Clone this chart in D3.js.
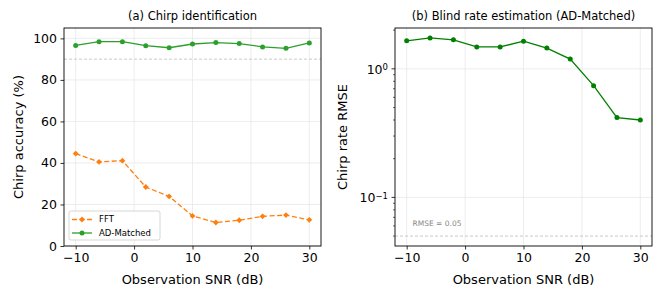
<!DOCTYPE html>
<html>
<head>
<meta charset="utf-8">
<script src="https://cdn.jsdelivr.net/npm/d3@7"></script>
<style>
  body { margin: 0; background: #fff; }
  svg text { font-family: "DejaVu Sans", sans-serif; fill: #000; }
</style>
</head>
<body>
<script>
// observation SNR (dB)
const snr = [-10, -6, -2, 2, 6, 10, 14, 18, 22, 26, 30];
// (a) chirp identification accuracy (%)
const fftAcc = [44.5, 40.5, 41.1, 28.4, 23.9, 14.5, 11.3, 12.4, 14.3, 14.9, 12.6];
const adAcc = [96.6, 98.4, 98.4, 96.5, 95.5, 97.3, 98.0, 97.5, 95.9, 95.2, 97.8];
const accThreshold = 90;
// (b) blind rate RMSE (AD-Matched)
const rateRmse = [1.65, 1.74, 1.68, 1.48, 1.48, 1.64, 1.45, 1.19, 0.74, 0.418, 0.40];
const rmseRef = 0.05;

const xTicks = [-10, 0, 10, 20, 30];
const accTicks = [0, 20, 40, 60, 80, 100];

const W = 662, H = 290;
const plotTop = 28, plotBottom = 246;
const panels = [{ left: 64, right: 321 }, { left: 395, right: 652 }];

const svg = d3.select("body").append("svg")
    .attr("width", W)
    .attr("height", H);

const fmt = d => (d < 0 ? "\u2212" + Math.abs(d) : "" + d);

function drawXAxis(g, x) {
    g.append("g").selectAll("line")
        .data(xTicks).join("line")
        .attr("x1", d => x(d)).attr("x2", d => x(d))
        .attr("y1", plotTop).attr("y2", plotBottom)
        .attr("stroke", "#e8e8e8").attr("stroke-width", 0.8);
    const ax = g.append("g").attr("transform", `translate(0,${plotBottom})`)
        .call(d3.axisBottom(x).tickValues(xTicks).tickFormat(fmt).tickSize(3.5).tickPadding(3.5));
    ax.select(".domain").remove();
    ax.selectAll(".tick line").attr("stroke", "#000").attr("stroke-width", 0.8);
    ax.selectAll(".tick text").attr("font-size", 12.5).attr("font-family", "DejaVu Sans").attr("fill", "#000");
}

function frame(g, p) {
    g.append("rect")
        .attr("x", p.left).attr("y", plotTop)
        .attr("width", p.right - p.left).attr("height", plotBottom - plotTop)
        .attr("fill", "none").attr("stroke", "#000").attr("stroke-width", 0.9);
}

// ---------- (a) Chirp identification ----------
{
    const p = panels[0];
    const g = svg.append("g");
    const x = d3.scaleLinear().domain([-12, 32]).range([p.left, p.right]);
    const y = d3.scaleLinear().domain([0, 105]).range([plotBottom, plotTop]);

    g.append("g").selectAll("line")
        .data(accTicks).join("line")
        .attr("x1", p.left).attr("x2", p.right)
        .attr("y1", d => y(d)).attr("y2", d => y(d))
        .attr("stroke", "#e8e8e8").attr("stroke-width", 0.8);
    drawXAxis(g, x);

    const ay = g.append("g").attr("transform", `translate(${p.left},0)`)
        .call(d3.axisLeft(y).tickValues(accTicks).tickSize(3.5).tickPadding(3.5));
    ay.select(".domain").remove();
    ay.selectAll(".tick line").attr("stroke", "#000").attr("stroke-width", 0.8);
    ay.selectAll(".tick text").attr("font-size", 12.5).attr("font-family", "DejaVu Sans").attr("fill", "#000");

    g.append("line")
        .attr("x1", p.left).attr("x2", p.right)
        .attr("y1", y(accThreshold)).attr("y2", y(accThreshold))
        .attr("stroke", "#bbb").attr("stroke-width", 0.8).attr("stroke-dasharray", "3,2");

    const line = d3.line().x((d, i) => x(snr[i])).y(d => y(d));

    g.append("path").datum(fftAcc)
        .attr("d", line).attr("fill", "none")
        .attr("stroke", "#ff7f0e").attr("stroke-width", 1.3).attr("stroke-dasharray", "5,2.5");
    g.append("g").selectAll("path")
        .data(fftAcc).join("path")
        .attr("d", d3.symbol(d3.symbolSquare, 17))
        .attr("transform", (d, i) => `translate(${x(snr[i])},${y(d)}) rotate(45)`)
        .attr("fill", "#ff7f0e");

    g.append("path").datum(adAcc)
        .attr("d", line).attr("fill", "none")
        .attr("stroke", "#2ca02c").attr("stroke-width", 1.3);
    g.append("g").selectAll("circle")
        .data(adAcc).join("circle")
        .attr("cx", (d, i) => x(snr[i])).attr("cy", d => y(d))
        .attr("r", 2.5).attr("fill", "#2ca02c");

    frame(g, p);

    // legend
    const lg = g.append("g").attr("transform", "translate(69,211)");
    lg.append("rect").attr("width", 91).attr("height", 29).attr("rx", 2)
        .attr("fill", "#fff").attr("fill-opacity", 0.8)
        .attr("stroke", "#ccc").attr("stroke-width", 0.8);
    const items = [
        { name: "FFT", color: "#ff7f0e", dash: "5,2.5", diamond: true },
        { name: "AD-Matched", color: "#2ca02c", dash: null, diamond: false }
    ];
    items.forEach((it, i) => {
        const yy = 8.5 + i * 13.5;
        lg.append("line").attr("x1", 3).attr("x2", 23).attr("y1", yy).attr("y2", yy)
            .attr("stroke", it.color).attr("stroke-width", 1.3)
            .attr("stroke-dasharray", it.dash);
        if (it.diamond) {
            lg.append("path").attr("d", d3.symbol(d3.symbolSquare, 17))
                .attr("transform", `translate(13,${yy}) rotate(45)`).attr("fill", it.color);
        } else {
            lg.append("circle").attr("cx", 13).attr("cy", yy).attr("r", 2.5).attr("fill", it.color);
        }
        lg.append("text").attr("x", 30).attr("y", yy).attr("dy", "0.35em")
            .attr("font-size", 8.5).text(it.name);
    });

    g.append("text").attr("x", (p.left + p.right) / 2).attr("y", 20)
        .attr("text-anchor", "middle").attr("font-size", 11.5)
        .text("(a) Chirp identification");
    g.append("text").attr("x", (p.left + p.right) / 2).attr("y", 284)
        .attr("text-anchor", "middle").attr("font-size", 13)
        .text("Observation SNR (dB)");
    g.append("text")
        .attr("transform", `translate(23,${(plotTop + plotBottom) / 2}) rotate(-90)`)
        .attr("text-anchor", "middle").attr("font-size", 13)
        .text("Chirp accuracy (%)");
}

// ---------- (b) Blind rate estimation ----------
{
    const p = panels[1];
    const g = svg.append("g");
    const x = d3.scaleLinear().domain([-12, 32]).range([p.left, p.right]);
    const lo = Math.log10(d3.min([...rateRmse, rmseRef]));
    const hi = Math.log10(d3.max(rateRmse));
    const pad = (hi - lo) * 0.05;
    const y = d3.scaleLog().domain([10 ** (lo - pad), 10 ** (hi + pad)]).range([plotBottom, plotTop]);

    const majors = [0.1, 1];
    const minors = [0.05, 0.06, 0.07, 0.08, 0.09, 0.2, 0.3, 0.4, 0.5, 0.6, 0.7, 0.8, 0.9, 2];

    g.append("g").selectAll("line")
        .data(majors).join("line")
        .attr("x1", p.left).attr("x2", p.right)
        .attr("y1", d => y(d)).attr("y2", d => y(d))
        .attr("stroke", "#e8e8e8").attr("stroke-width", 0.8);
    drawXAxis(g, x);

    g.append("g").selectAll("line")
        .data(majors).join("line")
        .attr("x1", p.left - 3.5).attr("x2", p.left)
        .attr("y1", d => y(d)).attr("y2", d => y(d))
        .attr("stroke", "#000").attr("stroke-width", 0.8);
    g.append("g").selectAll("line")
        .data(minors).join("line")
        .attr("x1", p.left - 2).attr("x2", p.left)
        .attr("y1", d => y(d)).attr("y2", d => y(d))
        .attr("stroke", "#000").attr("stroke-width", 0.6);
    const lab = g.append("g").selectAll("text")
        .data(majors).join("text")
        .attr("x", p.left - 7).attr("y", d => y(d)).attr("dy", "0.4em")
        .attr("text-anchor", "end").attr("font-size", 12.5);
    lab.append("tspan").text("10");
    lab.append("tspan").attr("dy", "-0.45em").attr("font-size", 8.5)
        .text(d => fmt(Math.round(Math.log10(d))));

    g.append("line")
        .attr("x1", p.left).attr("x2", p.right)
        .attr("y1", y(rmseRef)).attr("y2", y(rmseRef))
        .attr("stroke", "#bbb").attr("stroke-width", 0.8).attr("stroke-dasharray", "3,2");
    g.append("text").attr("x", x(-9)).attr("y", y(0.06))
        .attr("font-size", 7.5).style("fill", "#888")
        .text("RMSE = 0.05");

    const line = d3.line().x((d, i) => x(snr[i])).y(d => y(d));
    g.append("path").datum(rateRmse)
        .attr("d", line).attr("fill", "none")
        .attr("stroke", "#008000").attr("stroke-width", 1.3);
    g.append("g").selectAll("circle")
        .data(rateRmse).join("circle")
        .attr("cx", (d, i) => x(snr[i])).attr("cy", d => y(d))
        .attr("r", 2.5).attr("fill", "#008000");

    frame(g, p);

    g.append("text").attr("x", (p.left + p.right) / 2).attr("y", 20)
        .attr("text-anchor", "middle").attr("font-size", 11.5)
        .text("(b) Blind rate estimation (AD-Matched)");
    g.append("text").attr("x", (p.left + p.right) / 2).attr("y", 284)
        .attr("text-anchor", "middle").attr("font-size", 13)
        .text("Observation SNR (dB)");
    g.append("text")
        .attr("transform", `translate(347,${(plotTop + plotBottom) / 2}) rotate(-90)`)
        .attr("text-anchor", "middle").attr("font-size", 13)
        .text("Chirp rate RMSE");
}
</script>
</body>
</html>
